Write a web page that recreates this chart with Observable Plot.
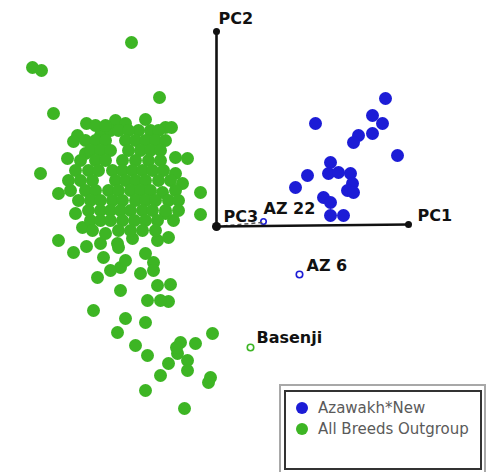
<!DOCTYPE html>
<html><head><meta charset="utf-8">
<script src="https://cdn.jsdelivr.net/npm/d3@7"></script>
<script src="https://cdn.jsdelivr.net/npm/@observablehq/plot@0.6"></script>
<style>
body{margin:0;background:#fff;}
#wrap{position:relative;width:491px;height:472px;overflow:hidden;}
#legend{position:absolute;left:279px;top:384px;width:207px;height:95px;border:2px solid #a8a8a8;box-sizing:border-box;background:#fff;}
#legend .inner{position:absolute;left:3px;top:4px;width:198px;height:80px;border:2px solid #333;box-sizing:border-box;}
#legend .item{position:absolute;left:10px;height:20px;line-height:20px;font-family:"DejaVu Sans",sans-serif;font-size:15px;color:#5a5a5a;white-space:nowrap;}
#legend .sw{display:inline-block;width:12px;height:12px;border-radius:50%;vertical-align:middle;margin-right:10px;position:relative;top:-1px;}
</style></head><body><div id="wrap"></div><script>
// PCA scores (arbitrary units, PC1 horizontal, PC2 vertical)
const outgroup = [
  [-85,184],[-184,159],[-175,156],[-57,129],[-163,113],[-130,103],[-101,106],[-91,103],[-71,107],[-51,99],[-45,99],
  [-139,91],[-143,85],[-116,91],[-106,96],[-78,96],[-149,68],[-131,73],[-176,53],[-158,33],[-41,69],[-29,68],
  [-16,34],[-16,12],[-41,53],[-34,43],[-54,34],[-141,13],[-134,-1],[-158,-14],[-143,-26],[-130,-20],[-113,-31],
  [-119,-51],[-96,-64],[-69,-74],[-59,-59],[-46,-58],[-48,-75],[-123,-84],[-91,-92],[-71,-96],[-99,-106],[-81,-119],
  [-69,-129],[-4,-107],[-36,-116],[-21,-117],[-39,-127],[-29,-134],[-48,-137],[-29,-144],[-56,-149],[-8,-156],
  [-6,-151],[-71,-164],[-32,-182],[-43,6],[-51,13],[-59,-14],[-48,-11],[-63,-36],[-63,-44],[-76,-47],[-96,-41],
  [-106,-44],[-116,-17],[-99,-17],[-84,-12],[-111,-7],[-98,-21],[-91,-34],[-71,-27],[-56,-74],[-40,-121],
  [-98,96],[-88,96],[-66,96],[-58,96],[-121,101],[-111,101],
  [-131,86],[-121,86],[-111,86],[-91,86],[-81,86],[-71,86],[-61,86],[-51,86],
  [-126,76],[-116,76],[-106,76],[-88,76],[-76,76],[-66,76],[-56,76],
  [-136,66],[-121,66],[-111,66],[-94,66],[-81,66],[-68,66],[-56,66],
  [-141,56],[-128,56],[-118,56],[-104,56],[-94,56],[-84,56],[-74,56],[-64,56],[-53,56],
  [-148,46],[-136,46],[-124,46],[-101,46],[-91,46],[-81,46],[-71,46],[-58,46],[-46,46],
  [-146,36],[-131,36],[-121,36],[-108,36],[-98,36],[-86,36],[-76,36],[-66,36],[-41,36],
  [-138,26],[-126,26],[-116,26],[-104,26],[-94,26],[-81,26],[-71,26],[-61,26],[-48,26],[-38,26],
  [-128,16],[-116,16],[-106,16],[-96,16],[-86,16],[-74,16],[-64,16],[-51,16],[-38,16],
  [-126,6],[-116,6],[-106,6],[-94,6],[-82,6],[-71,6],[-59,6],
  [-124,-4],[-98,-4],[-86,-4],[-74,-4],[-61,-4]
];
const azawakh = [
  [169,128],[99,103],[156,111],[166,103],[156,93],[142,91],[137,84],[181,71],[114,64],[112,53],[122,54],
  [134,53],[91,51],[79,39],[136,43],[131,36],[137,34],[107,29],[114,24],[114,11],[127,11]
];
const labelNames = ["AZ 22","AZ 6","Basenji"];
const labelGroups = ["Azawakh*New","Azawakh*New","All Breeds Outgroup"];
const labelPC1 = [47, 83, 34];
const labelPC2 = [5, -48, -121];
const axisNames = ["PC1","PC2","PC3"];
const axisEndPC1 = [192, 0, 46];
const axisEndPC2 = [2, 195, 4];
const groups = ["Azawakh*New","All Breeds Outgroup"];
const colors = ["#1c1cd6","#3db524"];

const color = g => colors[groups.indexOf(g)];
const labels = labelNames.map((name,i)=>({name, group:labelGroups[i], pc1:labelPC1[i], pc2:labelPC2[i]}));
const axes = axisNames.map((name,i)=>({name, x1:0, y1:0, x2:axisEndPC1[i], y2:axisEndPC2[i]}));
const solidAxes = axes.slice(0,2), dashedAxes = axes.slice(2);
const font = {fontFamily:"DejaVu Sans", fontWeight:"bold", fontSize:16, fill:"#111", textAnchor:"start"};
const labelOffsets = {"AZ 22":[0,-13],"AZ 6":[7,-9],"Basenji":[6,-10]};

const chart = Plot.plot({
  width:491, height:472,
  marginTop:0, marginRight:0, marginBottom:0, marginLeft:0,
  x:{domain:[-216,275], axis:null},
  y:{domain:[-246,226], axis:null},
  style:{background:"#fff"},
  marks:[
    Plot.dot(outgroup,{x:d=>d[0], y:d=>d[1], r:6.5, fill:color("All Breeds Outgroup")}),
    Plot.dot(azawakh,{x:d=>d[0], y:d=>d[1], r:6.5, fill:color("Azawakh*New")}),
    Plot.dot(labels,{x:"pc1", y:"pc2", r:d=>d.name==="AZ 22"?3.5:5, stroke:d=>color(d.group), strokeWidth:1.6, fill:"none"}),
    Plot.link(dashedAxes,{x1:"x1",y1:"y1",x2:"x2",y2:"y2", stroke:"#555", strokeWidth:1.5, strokeDasharray:"4,3"}),
    Plot.link(solidAxes,{x1:"x1",y1:"y1",x2:"x2",y2:"y2", stroke:"#111", strokeWidth:2.6}),
    Plot.dot(solidAxes,{x:"x2", y:"y2", r:3.5, fill:"#111"}),
    Plot.dot([axes[0]],{x:"x1", y:"y1", r:4.5, fill:"#111"}),
    // PC1 and PC2 labelled at their far ends, PC3 (pointing into the page) labelled at the origin
    Plot.text([axes[0]],{x:"x2", y:"y2", text:"name", dx:9, dy:-9, ...font}),
    Plot.text([axes[1]],{x:"x2", y:"y2", text:"name", dx:2, dy:-13, ...font}),
    Plot.text([axes[2]],{x:"x1", y:"y1", text:"name", dx:7, dy:-10, ...font}),
    ...labelNames.map(n=>Plot.text(labels.filter(a=>a.name===n),{x:"pc1", y:"pc2", text:"name", dx:labelOffsets[n][0], dy:labelOffsets[n][1], ...font}))
  ]
});
const wrap = document.getElementById("wrap");
wrap.appendChild(chart);

const legend = document.createElement("div");
legend.id = "legend";
const inner = document.createElement("div");
inner.className = "inner";
legend.appendChild(inner);
groups.forEach((g,i)=>{
  const item = document.createElement("div");
  item.className = "item";
  item.style.top = (6 + i*21) + "px";
  const sw = document.createElement("span");
  sw.className = "sw";
  sw.style.background = colors[i];
  item.appendChild(sw);
  item.appendChild(document.createTextNode(g));
  inner.appendChild(item);
});
wrap.appendChild(legend);
</script></body></html>
